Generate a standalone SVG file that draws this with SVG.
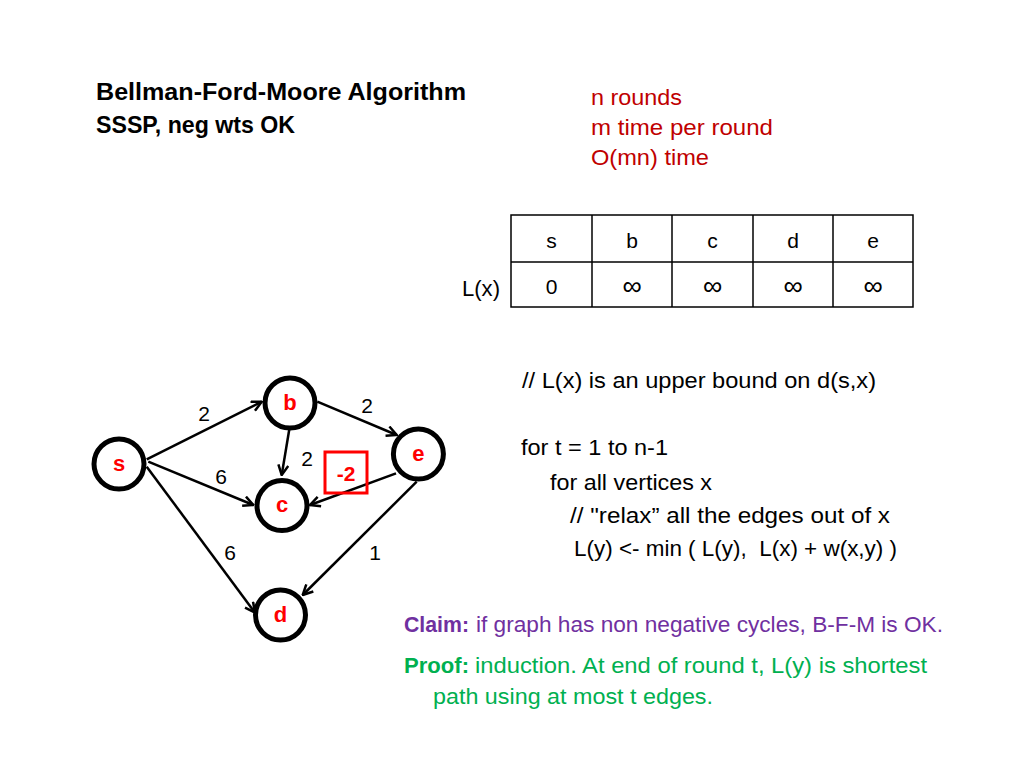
<svg xmlns="http://www.w3.org/2000/svg" width="1024" height="768" viewBox="0 0 1024 768">
<style>
text{font-family:"Liberation Sans",Arial,sans-serif;}
.t{font-size:22px;fill:#000;}
.title{font-size:24px;font-weight:bold;fill:#000;}
.red{font-size:22px;fill:#C00000;}
.node circle{fill:#fff;stroke:#000;stroke-width:5;}
.node text{font-size:22px;font-weight:bold;fill:#FF0000;text-anchor:middle;}
.edge{stroke:#000;stroke-width:2.5;fill:none;marker-end:url(#arr);}
.w{font-size:21px;fill:#000;text-anchor:middle;}
.cell{font-size:21px;fill:#000;text-anchor:middle;}
.inf{font-size:27px;fill:#000;text-anchor:middle;}
.grid{stroke:#000;stroke-width:1.5;fill:none;}
.purple{font-size:22px;fill:#7030A0;}
.green{font-size:22px;fill:#00B050;}
</style>
<defs>
<marker id="arr" viewBox="0 0 12 12" refX="11" refY="6" markerWidth="12" markerHeight="12" markerUnits="userSpaceOnUse" orient="auto">
<path d="M1,1 L11,6 L1,11" fill="none" stroke="#000" stroke-width="2.5"/>
</marker>
</defs>
<rect width="1024" height="768" fill="#fff"/>

<g id="title">
<text class="title" x="96" y="100" textLength="370" lengthAdjust="spacingAndGlyphs">Bellman-Ford-Moore Algorithm</text>
<text class="title" x="96" y="133" textLength="199" lengthAdjust="spacingAndGlyphs">SSSP, neg wts OK</text>
</g>

<g id="complexity">
<text class="red" x="591" y="105" textLength="91" lengthAdjust="spacingAndGlyphs">n rounds</text>
<text class="red" x="591" y="135" textLength="182" lengthAdjust="spacingAndGlyphs">m time per round</text>
<text class="red" x="591" y="165" textLength="118" lengthAdjust="spacingAndGlyphs">O(mn) time</text>
</g>

<g id="table">
<rect class="grid" x="511" y="215" width="402" height="92"/>
<line class="grid" x1="511" y1="262" x2="913" y2="262"/>
<line class="grid" x1="592" y1="215" x2="592" y2="307"/>
<line class="grid" x1="672" y1="215" x2="672" y2="307"/>
<line class="grid" x1="753" y1="215" x2="753" y2="307"/>
<line class="grid" x1="833" y1="215" x2="833" y2="307"/>
<text class="cell" x="551.5" y="248">s</text>
<text class="cell" x="632" y="248">b</text>
<text class="cell" x="712.5" y="248">c</text>
<text class="cell" x="793" y="248">d</text>
<text class="cell" x="873" y="248">e</text>
<text class="t" x="462" y="296" textLength="38" lengthAdjust="spacingAndGlyphs">L(x)</text>
<text class="cell" x="551.5" y="294">0</text>
<text class="inf" x="632" y="295">∞</text>
<text class="inf" x="712.5" y="295">∞</text>
<text class="inf" x="793" y="295">∞</text>
<text class="inf" x="873" y="295">∞</text>
</g>

<g id="connectors">
<line class="edge" x1="146.7" y1="459.3" x2="261.7" y2="401.7"/>
<line class="edge" x1="317.3" y1="401.7" x2="396.7" y2="435"/>
<line class="edge" x1="289.3" y1="429.3" x2="281.7" y2="475"/>
<line class="edge" x1="148.3" y1="461.7" x2="253.3" y2="505"/>
<line class="edge" x1="146.7" y1="466.7" x2="255" y2="612.7"/>
<line class="edge" x1="396" y1="473.3" x2="310" y2="505"/>
<line class="edge" x1="416.7" y1="481.7" x2="302.7" y2="595"/>
<text class="w" x="204" y="421">2</text>
<text class="w" x="367" y="413">2</text>
<text class="w" x="307" y="466">2</text>
<text class="w" x="221" y="484">6</text>
<text class="w" x="230" y="560">6</text>
<text class="w" x="375" y="560">1</text>
<rect x="325" y="452" width="42" height="41" fill="none" stroke="#FF0000" stroke-width="3"/>
<text x="346" y="481" font-size="21" font-weight="bold" fill="#FF0000" text-anchor="middle">-2</text>
</g>

<g id="node-s" class="node"><circle cx="119" cy="464" r="25"/><text x="119" y="471">s</text></g>
<g id="node-b" class="node"><circle cx="290" cy="403" r="25"/><text x="290" y="410">b</text></g>
<g id="node-e" class="node"><circle cx="418.4" cy="454" r="25"/><text x="418.4" y="461">e</text></g>
<g id="node-c" class="node"><circle cx="282" cy="505.6" r="25"/><text x="282" y="512">c</text></g>
<g id="node-d" class="node"><circle cx="280.5" cy="615" r="25"/><text x="280.5" y="622">d</text></g>

<g id="pseudocode">
<text class="t" x="522" y="388" textLength="354" lengthAdjust="spacingAndGlyphs">// L(x) is an upper bound on d(s,x)</text>
<text class="t" x="521" y="455" textLength="147" lengthAdjust="spacingAndGlyphs">for t = 1 to n-1</text>
<text class="t" x="550" y="490" textLength="162" lengthAdjust="spacingAndGlyphs">for all vertices x</text>
<text class="t" x="570" y="523" textLength="320" lengthAdjust="spacingAndGlyphs">// "relax” all the edges out of x</text>
<text class="t" x="574" y="556" textLength="323" lengthAdjust="spacingAndGlyphs" xml:space="preserve">L(y) &lt;- min ( L(y),  L(x) + w(x,y) )</text>
</g>

<g id="claim">
<text class="purple" x="404" y="632" font-weight="bold" textLength="65" lengthAdjust="spacingAndGlyphs">Claim:</text>
<text class="purple" x="476" y="632" textLength="467" lengthAdjust="spacingAndGlyphs">if graph has non negative cycles, B-F-M is OK.</text>
<text class="green" x="404" y="673" font-weight="bold" textLength="65" lengthAdjust="spacingAndGlyphs">Proof:</text>
<text class="green" x="475" y="673" textLength="452" lengthAdjust="spacingAndGlyphs">induction. At end of round t, L(y) is shortest</text>
<text class="green" x="433" y="704" textLength="280" lengthAdjust="spacingAndGlyphs">path using at most t edges.</text>
</g>
</svg>
